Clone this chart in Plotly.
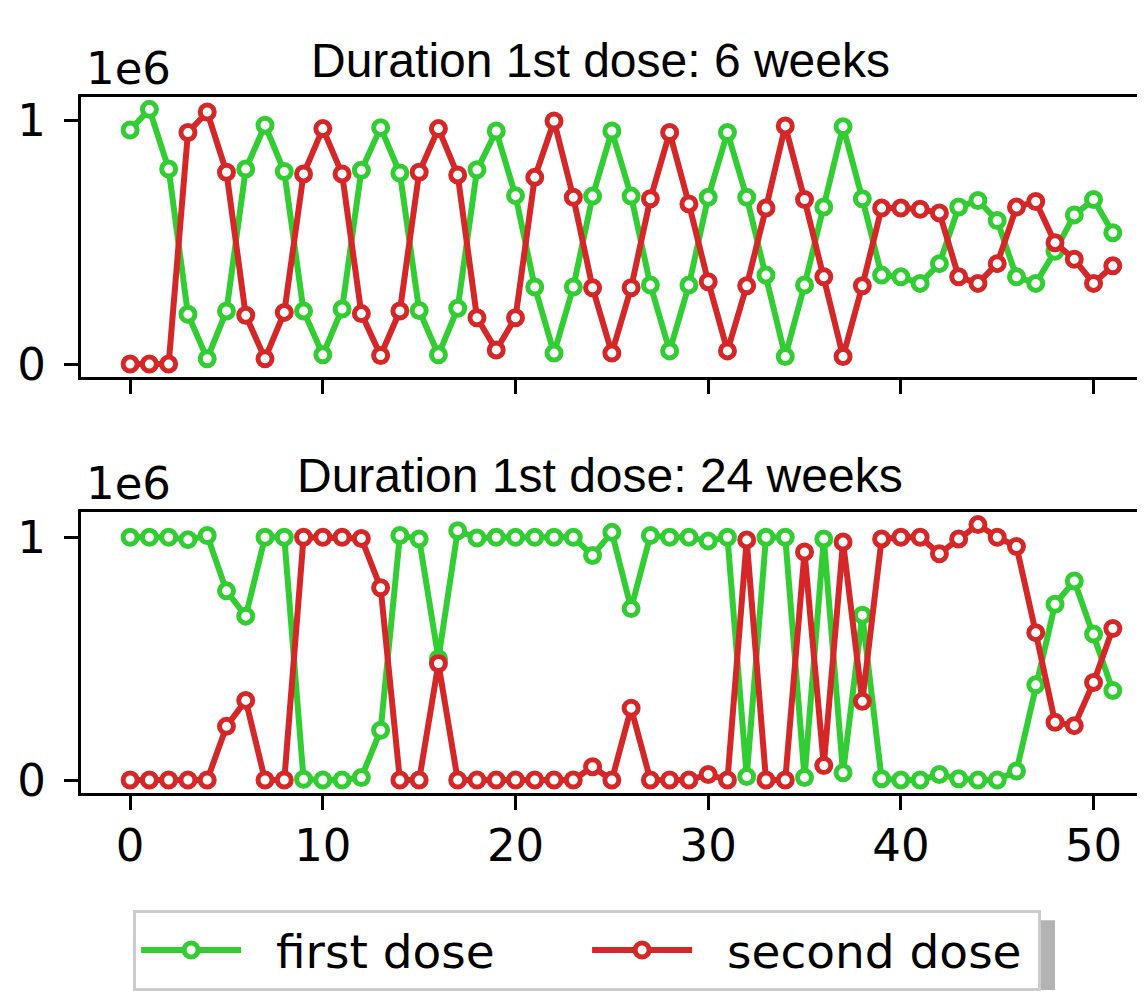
import plotly.graph_objects as go

# ---- data (values in units of 1e6) ----
weeks = list(range(52))

first_dose_6w = [0.96, 1.045, 0.80, 0.204, 0.022, 0.218, 0.80, 0.98, 0.79, 0.218,
                 0.038, 0.226, 0.795, 0.97, 0.784, 0.22, 0.038, 0.229, 0.797, 0.956,
                 0.691, 0.316, 0.045, 0.316, 0.689, 0.956, 0.689, 0.324, 0.054, 0.324,
                 0.684, 0.95, 0.684, 0.365, 0.031, 0.324, 0.644, 0.974, 0.678, 0.365,
                 0.358, 0.331, 0.412, 0.644, 0.671, 0.589, 0.358, 0.331, 0.463, 0.612,
                 0.675, 0.539]
second_dose_6w = [0.0, 0.0, 0.0, 0.95, 1.034, 0.787, 0.20, 0.022, 0.212, 0.78,
                  0.966, 0.78, 0.207, 0.035, 0.218, 0.787, 0.966, 0.776, 0.19, 0.058,
                  0.19, 0.766, 0.997, 0.684, 0.313, 0.045, 0.313, 0.678, 0.95, 0.657,
                  0.338, 0.054, 0.321, 0.64, 0.977, 0.675, 0.358, 0.031, 0.321, 0.64,
                  0.64, 0.635, 0.62, 0.358, 0.331, 0.412, 0.644, 0.667, 0.498, 0.43,
                  0.331, 0.403]
first_dose_24w = [1.0, 1.0, 1.0, 0.99, 1.007, 0.779, 0.675, 1.0, 1.0, 0.003,
                  0.0, 0.0, 0.01, 0.205, 1.007, 0.993, 0.50, 1.027, 0.997, 1.0,
                  1.0, 1.0, 1.0, 1.0, 0.925, 1.02, 0.706, 1.007, 1.0, 1.0,
                  0.984, 1.0, 0.014, 1.0, 1.0, 0.01, 0.993, 0.03, 0.679, 0.005,
                  0.0, 0.0, 0.023, 0.005, 0.0, 0.0, 0.037, 0.392, 0.724, 0.82,
                  0.601, 0.369]
second_dose_24w = [0.0, 0.0, 0.0, 0.0, 0.0, 0.221, 0.328, 0.0, 0.0, 1.0,
                   1.0, 1.0, 0.995, 0.792, 0.0, 0.0, 0.48, 0.0, 0.0, 0.0,
                   0.0, 0.0, 0.0, 0.0, 0.055, 0.0, 0.296, 0.0, 0.0, 0.0,
                   0.023, 0.0, 0.989, 0.0, 0.0, 0.939, 0.06, 0.98, 0.324, 0.993,
                   1.0, 1.0, 0.932, 0.993, 1.052, 1.0, 0.962, 0.607, 0.238, 0.224,
                   0.402, 0.624]

titles = ["Duration 1st dose: 6 weeks", "Duration 1st dose: 24 weeks"]
series_names = ["first dose", "second dose"]
x_ticks = [0, 10, 20, 30, 40, 50]
y_ticks = [0, 1]
y_tick_text = ["0", "1"]
offset_text = "1e6"

GREEN = "#32CD32"
RED = "#D62728"
TICK_FONT = dict(family="DejaVu Sans", size=45, color="black")
TITLE_FONT = dict(family="Liberation Sans, Arial", size=48, color="black")

# page body has an 8px margin; figure drawn from screen (8, 8)
OFF = 8
W, H = 1145 - OFF, 991 - OFF
L = 80.9 - OFF


def py(screen_y):
    return (H - (screen_y - OFF)) / H


def px(screen_x):
    return (screen_x - OFF - L) / (W - L)


top_dom = [py(378.7), py(97)]
bot_dom = [py(796.8), py(514.4)]
xr = [-2.55, 52.67]

fig = go.Figure()

panels = [
    ("x", "y", first_dose_6w, second_dose_6w, True),
    ("x2", "y2", first_dose_24w, second_dose_24w, False),
]
for xa, ya, f, s, show_leg in panels:
    fig.add_trace(go.Scatter(
        x=weeks, y=f, xaxis=xa, yaxis=ya, mode="lines+markers",
        name="\u00a0\u00a0" + series_names[0], showlegend=show_leg,
        line=dict(color=GREEN, width=6),
        marker=dict(symbol="circle", size=14, color="white",
                    line=dict(color=GREEN, width=5)),
    ))
    fig.add_trace(go.Scatter(
        x=weeks, y=s, xaxis=xa, yaxis=ya, mode="lines+markers",
        name="\u00a0\u00a0" + series_names[1], showlegend=show_leg,
        line=dict(color=RED, width=6),
        marker=dict(symbol="circle", size=14, color="white",
                    line=dict(color=RED, width=5)),
    ))

axis_common = dict(showline=True, linecolor="black", linewidth=3,
                   ticks="outside", ticklen=14, tickwidth=3, tickcolor="black",
                   showgrid=False, zeroline=False, tickfont=TICK_FONT,
                   automargin=False)

fig.update_layout(
    width=W, height=H,
    margin=dict(l=L, r=0, t=0, b=0),
    paper_bgcolor="white", plot_bgcolor="white",
    xaxis=dict(domain=[0, 1], anchor="y", range=xr, tickvals=x_ticks,
               showticklabels=False, mirror=True, **axis_common),
    yaxis=dict(domain=top_dom, anchor="x", range=[-0.0523, 1.0975],
               tickvals=y_ticks, ticktext=y_tick_text, ticklabelstandoff=9,
               **axis_common),
    xaxis2=dict(domain=[0, 1], anchor="y2", range=xr, tickvals=x_ticks,
                mirror=True, ticklabelstandoff=-3, **axis_common),
    yaxis2=dict(domain=bot_dom, anchor="x2", range=[-0.0526, 1.1046],
                tickvals=y_ticks, ticktext=y_tick_text, ticklabelstandoff=9,
                **axis_common),
    legend=dict(
        orientation="h", x=px(133), y=py(915),
        xanchor="left", yanchor="top",
        font=dict(family="DejaVu Sans", size=47, color="black"),
        bgcolor="white", bordercolor="#cccccc", borderwidth=3,
        entrywidth=336, itemwidth=100,
    ),
    shapes=[dict(type="rect", xref="paper", yref="paper",
                 x0=px(141), x1=px(1055), y0=py(995), y1=py(925),
                 fillcolor="#b3b3b3", line=dict(width=0), layer="below")],
)

ann = []
for dom, t in zip([top_dom, bot_dom], titles):
    ann.append(dict(text=t, xref="paper", yref="paper",
                    x=px(600), y=dom[1], xanchor="center",
                    yanchor="bottom", yshift=8, showarrow=False, font=TITLE_FONT))
    ann.append(dict(text=offset_text, xref="paper", yref="paper",
                    x=px(84), y=dom[1], xanchor="left", yanchor="bottom",
                    yshift=0, showarrow=False, font=TICK_FONT))
fig.update_layout(annotations=ann)

fig.write_html("out.html")
